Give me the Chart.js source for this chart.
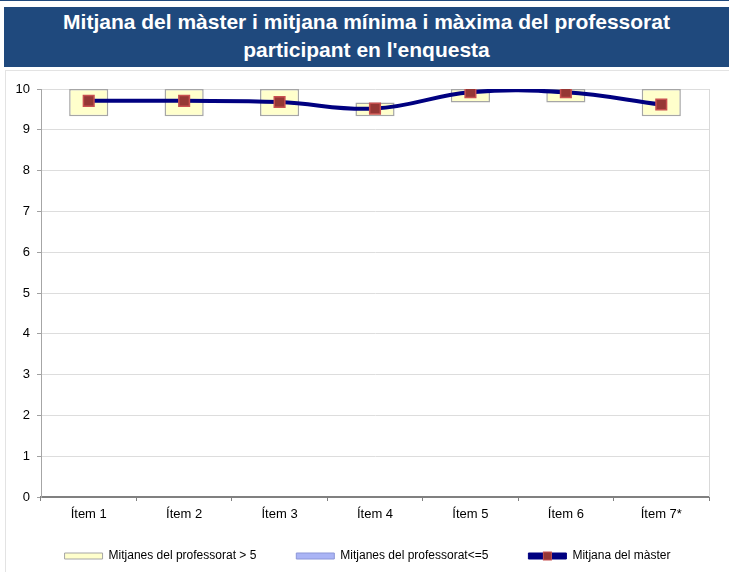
<!DOCTYPE html>
<html>
<head>
<meta charset="utf-8">
<script src="https://cdn.jsdelivr.net/npm/chart.js@4/dist/chart.umd.min.js"></script>
<style>
  html, body { margin: 0; padding: 0; background: #fff; }
  body { width: 729px; height: 572px; position: relative; overflow: hidden; font-family: "Liberation Sans", Arial, sans-serif; }
  #topline { position: absolute; left: 0; top: 0; width: 729px; height: 1px; background: #1F497D; }
  #title { position: absolute; left: 4px; top: 7px; width: 725px; height: 60px; background: #1F497D; color: #fff;
           font-weight: bold; font-size: 21px; line-height: 28px; text-align: center; padding-top: 1px; box-sizing: border-box; }
  #frame { position: absolute; left: 5px; top: 70px; width: 724px; height: 502px; border-left: 1px solid #E3E3E3; border-top: 1px solid #E3E3E3; box-sizing: border-box; }
  #wrap { position: absolute; left: 6px; top: 71px; width: 723px; height: 501px; }
</style>
</head>
<body>
<div id="topline"></div>
<div id="title">Mitjana del màster i mitjana mínima i màxima del professorat<br>participant en l'enquesta</div>
<div id="frame"></div>
<div id="wrap"><canvas id="c"></canvas></div>
<script>
const categories = ["Ítem 1", "Ítem 2", "Ítem 3", "Ítem 4", "Ítem 5", "Ítem 6", "Ítem 7*"];
const profMinAbove5 = [9.33, 9.33, 9.33, 9.33, 9.67, 9.67, 9.33];
const profMaxAbove5 = [10, 10, 10, 9.67, 10, 10, 10];
const profRangeBelow5 = [null, null, null, null, null, null, null];
const masterMean = [9.71, 9.71, 9.68, 9.52, 9.92, 9.92, 9.62];
const yTicks = [0, 1, 2, 3, 4, 5, 6, 7, 8, 9, 10];

const rangeAbove5 = profMinAbove5.map((v, i) => [v, profMaxAbove5[i]]);

const markerPlugin = {
  id: 'legendMarker',
  afterLayout(chart) {
    const lg = chart.legend;
    if (lg) { lg.left += 10; lg.right += 10; }
  },
  afterDraw(chart) {
    const lg = chart.legend;
    if (!lg || !lg.legendHitBoxes) return;
    const hb = lg.legendHitBoxes[2];
    if (!hb) return;
    const ctx = chart.ctx;
    const bw = chart.options.plugins.legend.labels.boxWidth;
    const cx = hb.left + bw / 2;
    const cy = hb.top + hb.height / 2;
    ctx.save();
    ctx.fillStyle = '#953735';
    ctx.strokeStyle = '#C85050';
    ctx.lineWidth = 1;
    ctx.fillRect(cx - 4, cy - 4, 8, 8);
    ctx.strokeRect(cx - 4, cy - 4, 8, 8);
    ctx.restore();
  }
};

const frameRight = {
  id: 'frameRight',
  beforeDatasetsDraw(chart) {
    const a = chart.chartArea, ctx = chart.ctx;
    ctx.save();
    ctx.strokeStyle = '#D9D9D9';
    ctx.lineWidth = 1;
    ctx.beginPath();
    ctx.moveTo(a.right + 0.5, a.top);
    ctx.lineTo(a.right + 0.5, a.bottom);
    ctx.stroke();
    ctx.restore();
  }
};

new Chart(document.getElementById('c'), {
  data: {
    labels: categories,
    datasets: [
      {
        type: 'line',
        label: 'Mitjana del màster',
        data: masterMean,
        borderColor: '#000080',
        backgroundColor: '#000080',
        borderWidth: 4,
        tension: 0.4,
        pointStyle: 'rect',
        pointRadius: 7.5,
        pointHoverRadius: 7.5,
        pointBackgroundColor: '#953735',
        pointBorderColor: '#C85050',
        pointBorderWidth: 1.5,
        order: 0
      },
      {
        type: 'bar',
        label: 'Mitjanes del professorat > 5',
        data: rangeAbove5,
        backgroundColor: '#FFFFCC',
        borderColor: '#A6A6A6',
        borderWidth: 1.5,
        borderSkipped: false,
        grouped: false,
        barPercentage: 0.41,
        categoryPercentage: 1,
        order: 2
      },
      {
        type: 'bar',
        label: 'Mitjanes del professorat<=5',
        data: profRangeBelow5,
        backgroundColor: '#AAB4F5',
        borderColor: '#8C96D8',
        borderWidth: 1,
        borderSkipped: false,
        grouped: false,
        barPercentage: 0.41,
        categoryPercentage: 1,
        order: 1
      }
    ]
  },
  options: {
    responsive: true,
    maintainAspectRatio: false,
    animation: false,
    events: [],
    layout: { padding: { left: 0, right: 20, top: 18, bottom: 0 } },
    plugins: {
      title: { display: false },
      tooltip: { enabled: false },
      legend: {
        position: 'bottom',
        labels: {
          boxWidth: 38,
          boxHeight: 6,
          padding: 40,
          color: '#000',
          font: { family: '"Liberation Sans", Arial, sans-serif', size: 12 },
          generateLabels(chart) {
            const order = [1, 2, 0];
            return order.map(i => {
              const ds = chart.data.datasets[i];
              return {
                text: ds.label,
                fillStyle: ds.type === 'line' ? '#000080' : ds.backgroundColor,
                strokeStyle: ds.type === 'line' ? '#000080' : ds.borderColor,
                lineWidth: 1,
                hidden: false,
                datasetIndex: i,
                fontColor: '#000'
              };
            });
          }
        }
      }
    },
    scales: {
      x: {
        offset: true,
        grid: { display: true, drawOnChartArea: false, offset: true, tickLength: 4, color: '#808080' },
        border: { color: '#808080', width: 2 },
        ticks: { color: '#000', font: { family: '"Liberation Sans", Arial, sans-serif', size: 13 }, padding: 6 },
        afterFit(s) { s.height = 13; s._computeLabelArea = () => undefined; }
      },
      y: {
        min: 0,
        max: 10,
        afterBuildTicks(s) { s.ticks = yTicks.map(v => ({ value: v })); },
        grid: { color: '#DDDDDD', tickLength: 4, tickColor: '#A0A0A0' },
        border: { color: '#A6A6A6', width: 1 },
        ticks: { color: '#000', font: { family: '"Liberation Sans", Arial, sans-serif', size: 13 }, padding: 7 },
        afterFit(s) { s.width = 35; }
      }
    }
  },
  plugins: [markerPlugin, frameRight]
});
</script>
</body>
</html>
